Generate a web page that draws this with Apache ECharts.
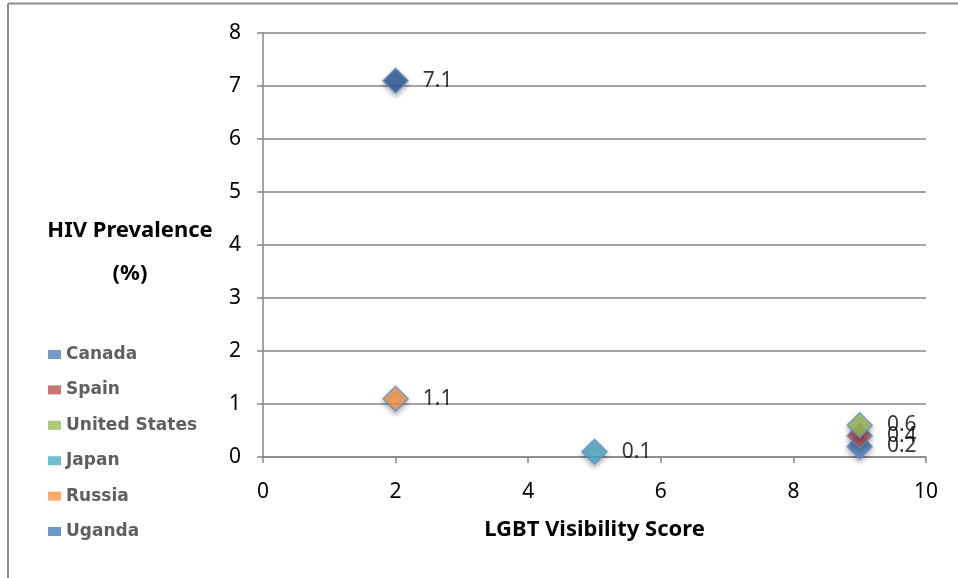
<!DOCTYPE html>
<html>
<head>
<meta charset="utf-8">
<script src="https://cdn.jsdelivr.net/npm/echarts@6/dist/echarts.min.js"></script>
<style>html,body{margin:0;padding:0;background:#fff;}#c{width:958px;height:578px;}</style>
</head>
<body>
<div id="c"></div>
<script>
const countries = ['Canada', 'Spain', 'United States', 'Japan', 'Russia', 'Uganda'];
const visibility = [9, 9, 9, 5, 2, 2];
const prevalence = [0.2, 0.4, 0.6, 0.1, 1.1, 7.1];
const markerColors = ['#4F81BD', '#C0504D', '#9BBB59', '#4BACC6', '#F79646', '#2C5596'];
const legendColors = ['#4F81BD', '#C0504D', '#9BBB59', '#4BACC6', '#F79646', '#4A7EBB'];
const yTicks = [0, 1, 2, 3, 4, 5, 6, 7, 8];
const xTicks = [0, 2, 4, 6, 8, 10];
const yAxisTitle = 'HIV Prevalence\n(%)';
const xAxisTitle = 'LGBT Visibility Score';

const font = '"Noto Sans", "Open Sans", sans-serif';
const chart = echarts.init(document.getElementById('c'));
const series = countries.map((name, i) => ({
  name: name,
  type: 'scatter',
  symbol: 'diamond',
  symbolSize: 25,
  data: [[visibility[i], prevalence[i]]],
  itemStyle: {
    color: markerColors[i],
    borderColor: '#5E8ED0',
    borderWidth: 1.5,
    shadowBlur: 5,
    shadowOffsetY: 3,
    shadowColor: 'rgba(0,0,0,0.35)'
  },
  label: {
    show: true,
    position: 'right',
    distance: 14,
    color: '#000',
    fontSize: 21,
    fontFamily: font,
    formatter: p => String(p.value[1])
  },
  emphasis: { disabled: true }
}));

chart.setOption({
  animation: false,
  backgroundColor: '#fff',
  grid: { left: 263, right: 32, top: 33, bottom: 121, containLabel: false },
  legend: {
    orient: 'vertical',
    left: 43,
    top: 341,
    icon: 'rect',
    itemWidth: 13,
    itemHeight: 9,
    itemGap: 18.4,
    textStyle: { color: '#5f5f5f', fontSize: 17, lineHeight: 17, fontWeight: 'bold', fontFamily: '"DejaVu Sans", sans-serif' },
    data: countries.map((n, i) => ({ name: n, itemStyle: { color: legendColors[i], borderWidth: 0, shadowBlur: 0 } }))
  },
  xAxis: {
    type: 'value',
    min: xTicks[0],
    max: xTicks[xTicks.length - 1],
    interval: 2,
    name: xAxisTitle,
    nameLocation: 'middle',
    nameGap: 73,
    nameTextStyle: { fontSize: 22, fontWeight: 'bold', color: '#000', fontFamily: font, verticalAlign: 'middle' },
    axisLine: { show: true, onZero: false, lineStyle: { color: '#868686', width: 1.5 } },
    axisTick: { show: true, length: 6, lineStyle: { color: '#868686', width: 1.5 } },
    axisLabel: { color: '#000', fontSize: 21, fontFamily: font, margin: 25 },
    splitLine: { show: false }
  },
  yAxis: {
    type: 'value',
    min: yTicks[0],
    max: yTicks[yTicks.length - 1],
    interval: 1,
    axisLine: { show: true, lineStyle: { color: '#868686', width: 1.5 } },
    axisTick: { show: true, length: 6, lineStyle: { color: '#868686', width: 1.5 } },
    axisLabel: { color: '#000', fontSize: 21, fontFamily: font, margin: 22 },
    splitLine: { show: true, lineStyle: { color: '#868686', width: 1.5 } }
  },
  graphic: [
    { type: 'line', shape: { x1: 8, y1: 3.5, x2: 958, y2: 3.5 }, style: { stroke: '#8c8c8c', lineWidth: 2 } },
    { type: 'line', shape: { x1: 8, y1: 3.5, x2: 8, y2: 578 }, style: { stroke: '#8c8c8c', lineWidth: 2 } },
    { type: 'text', x: 130, y: 252, style: {
        text: yAxisTitle, align: 'center', verticalAlign: 'middle',
        fontSize: 22, fontWeight: 'bold', fontFamily: font, fill: '#000', lineHeight: 43 } }
  ],
  series: series
});
</script>
</body>
</html>
